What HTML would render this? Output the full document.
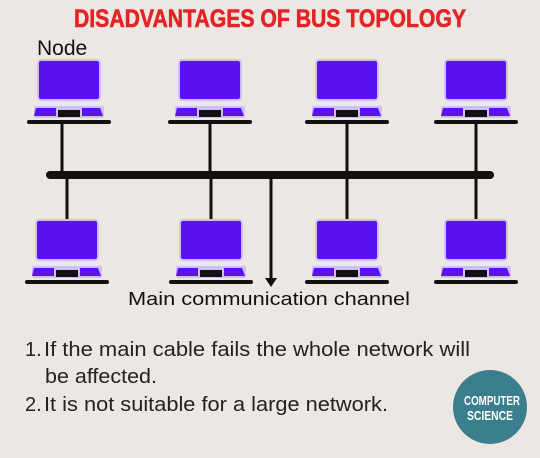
<!DOCTYPE html>
<html><head><style>
body{margin:0;width:540px;height:453px;background:#ece7e2;overflow:hidden;font-family:"Liberation Sans",sans-serif}
</style></head><body>
<svg width="540" height="453" viewBox="0 0 540 453" xmlns="http://www.w3.org/2000/svg">
<defs>
<g id="lap">
<rect x="-32" y="0" width="64" height="42" rx="4" fill="#cdbff2"/>
<rect x="-30" y="2" width="60" height="38" rx="2" fill="#5a12f0"/>
<rect x="-35" y="47" width="70" height="12" rx="2" fill="#cdbff2"/>
<path d="M-33 49 H-13 V57 H-35 Z" fill="#5a12f0"/>
<path d="M13 49 H31 L34 57 H13 Z" fill="#5a12f0"/>
<rect x="-11" y="51" width="22" height="7" fill="#111"/>
<rect x="-42" y="61" width="84" height="4" rx="2" fill="#111"/>
</g>
</defs>
<text x="270" y="27" text-anchor="middle" font-family="Liberation Sans, sans-serif" font-weight="bold" font-size="25" fill="#e42326" stroke="#e42326" stroke-width="0.6" textLength="392" lengthAdjust="spacingAndGlyphs">DISADVANTAGES OF BUS TOPOLOGY</text>
<text x="37" y="55" font-size="21" fill="#111">Node</text>
<g stroke="#111" stroke-width="3">
<line x1="62" y1="124" x2="62" y2="174"/>
<line x1="210" y1="124" x2="210" y2="174"/>
<line x1="347" y1="124" x2="347" y2="174"/>
<line x1="476" y1="124" x2="476" y2="174"/>
<line x1="67" y1="176" x2="67" y2="220"/>
<line x1="211" y1="176" x2="211" y2="220"/>
<line x1="347" y1="176" x2="347" y2="220"/>
<line x1="476" y1="176" x2="476" y2="220"/>
<line x1="271" y1="176" x2="271" y2="280"/>
</g>
<rect x="46" y="171" width="448" height="8" rx="4" fill="#111"/>
<path d="M265 278 L277 278 L271 287 Z" fill="#111"/>
<use href="#lap" x="69" y="59"/>
<use href="#lap" x="210" y="59"/>
<use href="#lap" x="347" y="59"/>
<use href="#lap" x="476" y="59"/>
<use href="#lap" x="67" y="219"/>
<use href="#lap" x="211" y="219"/>
<use href="#lap" x="347" y="219"/>
<use href="#lap" x="476" y="219"/>
<text x="128" y="305" font-size="18" fill="#111" textLength="282" lengthAdjust="spacingAndGlyphs">Main communication channel</text>
<g font-size="20" fill="#222">
<text x="25" y="356">1.</text><text x="44" y="356" textLength="426" lengthAdjust="spacingAndGlyphs">If the main cable fails the whole network will</text>
<text x="45" y="383" textLength="112" lengthAdjust="spacingAndGlyphs">be affected.</text>
<text x="25" y="411">2.</text><text x="44" y="411" textLength="344" lengthAdjust="spacingAndGlyphs">It is not suitable for a large network.</text>
</g>
<circle cx="490" cy="407" r="37" fill="#3b7f8e"/>
<g font-weight="bold" font-size="13" fill="#fff" text-anchor="middle">
<text x="492" y="405" textLength="56" lengthAdjust="spacingAndGlyphs">COMPUTER</text>
<text x="490" y="420" textLength="46" lengthAdjust="spacingAndGlyphs">SCIENCE</text>
</g>
</svg>
</body></html>
